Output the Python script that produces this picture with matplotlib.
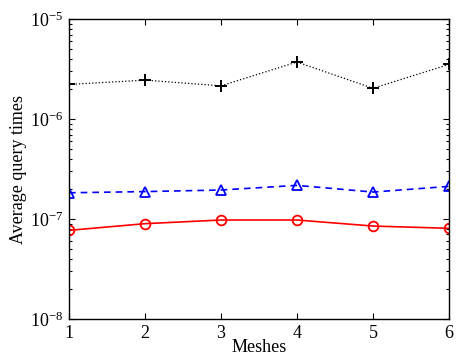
import matplotlib
matplotlib.use('Agg')
import matplotlib.pyplot as plt

meshes = [1, 2, 3, 4, 5, 6]
times_plus = [2.22e-6, 2.45e-6, 2.15e-6, 3.72e-6, 2.03e-6, 3.52e-6]
times_tri = [1.83e-7, 1.88e-7, 1.95e-7, 2.17e-7, 1.86e-7, 2.12e-7]
times_circ = [7.7e-8, 8.98e-8, 9.77e-8, 9.77e-8, 8.5e-8, 8.07e-8]

plt.rcParams['font.family'] = ['Liberation Serif', 'DejaVu Serif']
plt.rcParams['mathtext.fontset'] = 'stix'

fig = plt.figure(figsize=(4.57, 3.6), dpi=100)
ax = fig.add_axes([0.151, 0.114, 0.8315, 0.833])

ax.plot(meshes, times_plus, color='k', linestyle=':', linewidth=0.9,
        marker='+', markersize=8, markeredgewidth=1.4)
ax.plot(meshes, times_tri, color='b', linestyle='--', linewidth=1.2, dashes=(4, 3),
        marker='^', markersize=7, markerfacecolor='none', markeredgewidth=1.3)
ax.plot(meshes, times_circ, color='r', linestyle='-', linewidth=1.2,
        marker='o', markersize=7, markerfacecolor='none', markeredgewidth=1.3)

ax.set_yscale('log')
ax.set_xlim(1, 6)
ax.set_ylim(1e-8, 1e-5)
ax.set_xticks(meshes)
ax.set_yticks([1e-8, 1e-7, 1e-6, 1e-5])
ax.tick_params(which='both', direction='in', top=True, right=True, labelsize=13, width=0.8)
ax.tick_params(which='major', length=4, pad=4)
ax.tick_params(which='minor', length=2)
for s in ax.spines.values():
    s.set_linewidth(1.0)

ax.set_xlabel('Meshes', fontsize=13, labelpad=-2)
ax.set_ylabel('Average query times', fontsize=13, labelpad=2)

fig.savefig('out.png', dpi=100)
